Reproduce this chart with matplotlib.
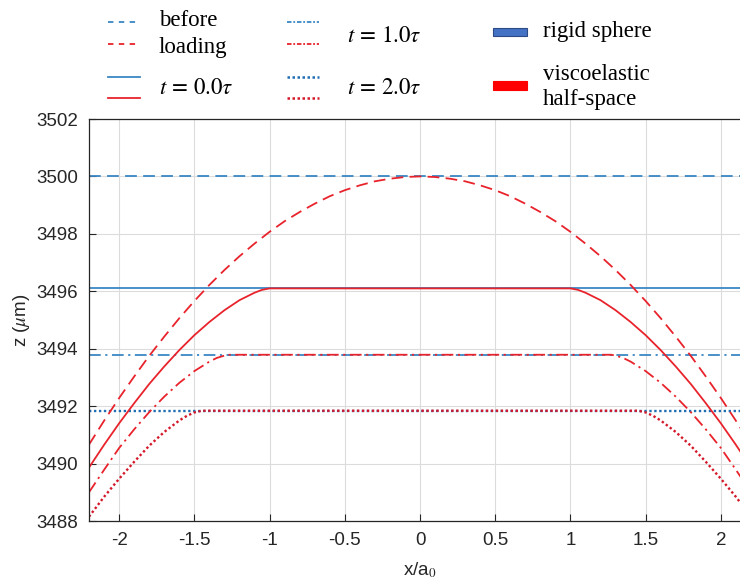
import numpy as np
import matplotlib
matplotlib.use("Agg")
import matplotlib.pyplot as plt
from matplotlib.lines import Line2D
from matplotlib.patches import Rectangle

plt.rcParams["mathtext.fontset"] = "stix"
plt.rcParams["axes.unicode_minus"] = False
plt.rcParams["font.family"] = ["Liberation Sans", "DejaVu Sans"]

# ---- data (x / a0, z in micrometres); profiles are symmetric about x = 0 ----
x_load = [0.0, 0.1, 0.2, 0.3, 0.4, 0.5, 0.6, 0.7, 0.8, 0.9, 1.0, 1.1,
          1.2, 1.3, 1.4, 1.5, 1.6, 1.7, 1.8, 1.9, 2.0, 2.1, 2.2]
z_load = [3500.00, 3499.98, 3499.92, 3499.83, 3499.69, 3499.52, 3499.31,
          3499.05, 3498.76, 3498.44, 3498.07, 3497.66, 3497.22, 3496.74,
          3496.22, 3495.66, 3495.06, 3494.42, 3493.75, 3493.03, 3492.28,
          3491.49, 3490.66]

x_t0 = [1.0, 1.05, 1.1, 1.2, 1.3, 1.4, 1.5, 1.6, 1.7, 1.8, 1.9, 2.0, 2.1, 2.2]
z_t0 = [3496.10, 3496.05, 3495.95, 3495.69, 3495.34, 3494.93, 3494.47,
        3493.95, 3493.38, 3492.77, 3492.10, 3491.40, 3490.65, 3489.86]

x_t1 = [1.27, 1.3, 1.35, 1.4, 1.5, 1.6, 1.7, 1.8, 1.9, 2.0, 2.1, 2.2]
z_t1 = [3493.79, 3493.76, 3493.68, 3493.55, 3493.22, 3492.81, 3492.33,
        3491.79, 3491.19, 3490.54, 3489.78, 3489.00]

x_t2 = [1.45, 1.5, 1.55, 1.6, 1.7, 1.8, 1.9, 2.0, 2.1, 2.2]
z_t2 = [3491.84, 3491.78, 3491.66, 3491.50, 3491.10, 3490.62, 3490.06,
        3489.47, 3488.84, 3488.15]

# rigid sphere heights
sphere_before = 3500.0
sphere_t0 = 3496.1
sphere_t1 = 3493.79
sphere_t2 = 3491.84

x_ticks = [-2, -1.5, -1, -0.5, 0, 0.5, 1, 1.5, 2]
x_ticklabels = ["-2", "-1.5", "-1", "-0.5", "0", "0.5", "1", "1.5", "2"]
y_ticks = [3488, 3490, 3492, 3494, 3496, 3498, 3500, 3502]


def mirror(xh, zh, include_zero=False):
    xh = np.asarray(xh, float)
    zh = np.asarray(zh, float)
    if include_zero:
        return np.concatenate([-xh[:0:-1], xh]), np.concatenate([zh[:0:-1], zh])
    return np.concatenate([-xh[::-1], xh]), np.concatenate([zh[::-1], zh])


BLUE = "#3a87c4"
RED = "#e8232c"
INK = "#262626"

W, H = 740, 583
fig = plt.figure(figsize=(W / 100, H / 100), dpi=100)
fig.patch.set_facecolor("white")

ax_l, ax_r, ax_t, ax_b = 89, 751, 119, 521
ax = fig.add_axes([ax_l / W, 1 - ax_b / H, (ax_r - ax_l) / W, (ax_b - ax_t) / H])

lw = 1.3
dash = (0, (6.5, 3.5))
dashdot = (0, (6.5, 2.5, 1.2, 2.5))
dot = (0, (1.0, 1.1))

# rigid sphere positions
ax.axhline(sphere_before, color=BLUE, lw=lw, linestyle=dash)
ax.axhline(sphere_t0, color=BLUE, lw=lw, linestyle="-")
ax.axhline(sphere_t1, color=BLUE, lw=lw, linestyle=dashdot)
ax.axhline(sphere_t2, color="#1f6db3", lw=lw + 0.4, linestyle=dot)

# half-space surface
xl, zl = mirror(x_load, z_load, include_zero=True)
ax.plot(xl, zl, color=RED, lw=lw, linestyle=dash)
xa, za = mirror(x_t0, z_t0)
ax.plot(xa, za, color=RED, lw=lw, linestyle="-")
xb, zb = mirror(x_t1, z_t1)
ax.plot(xb, zb, color=RED, lw=lw, linestyle=dashdot)
xc, zc = mirror(x_t2, z_t2)
ax.plot(xc, zc, color="#d4182a", lw=lw + 0.4, linestyle=dot)

ax.set_xlim(-2.2, 2.2)
ax.set_ylim(3488, 3502)
ax.set_xticks(x_ticks)
ax.set_xticklabels(x_ticklabels)
ax.set_yticks(y_ticks)
ax.tick_params(direction="in", length=5, width=0.8, colors=INK,
               labelsize=13.5, top=False, right=False, pad=8)
ax.grid(True, color="#dcdcdc", lw=0.8)
ax.set_axisbelow(True)
for s in ax.spines.values():
    s.set_color(INK)
    s.set_linewidth(0.9)

ax.set_xlabel("x/a$_0$", fontsize=13.5, color=INK, labelpad=8)
ax.set_ylabel("z ($\\mu$m)", fontsize=13.5, color=INK, labelpad=3)

# ---- legend above the axes ----
def fx(px):
    return px / W


def fy(py):
    return 1 - py / H


def sample(x0, y, color, ls, width=1.3):
    fig.add_artist(Line2D([fx(x0), fx(x0 + 32)], [fy(y), fy(y)], color=color,
                          lw=width, linestyle=ls, transform=fig.transFigure))


def label(x, y, s):
    fig.text(fx(x), fy(y), s, fontsize=16.5, family="Liberation Serif",
             va="center", ha="left", color="black")


sample(108, 22, BLUE, (0, (3, 3)))
label(159, 20, "before")
sample(108, 44, RED, (0, (3, 3)))
label(159, 48, "loading")
sample(108, 77, BLUE, "-")
sample(108, 98, RED, "-")
label(159, 88, "$t\\,=\\,0.0\\tau$")

sample(287, 22, BLUE, (0, (2.5, 1.0, 1.0, 1.0)))
sample(287, 44, RED, (0, (2.5, 1.0, 1.0, 1.0)))
label(347, 36, "$t\\,=\\,1.0\\tau$")
sample(287, 77, "#1f6db3", (0, (1.0, 1.0)), 1.8)
sample(287, 98, "#d4182a", (0, (1.0, 1.0)), 1.8)
label(347, 88, "$t\\,=\\,2.0\\tau$")

fig.add_artist(Rectangle((fx(493), fy(36)), 34 / W, 8 / H, facecolor="#4472c4",
                         edgecolor="#2b4a86", lw=0.8, transform=fig.transFigure))
label(543, 31, "rigid sphere")
fig.add_artist(Rectangle((fx(493), fy(90)), 34 / W, 9 / H, facecolor="#ff0000",
                         edgecolor="#ff0000", lw=0.8, transform=fig.transFigure))
label(543, 74, "viscoelastic")
label(543, 99, "half-space")

fig.savefig("out.png", dpi=100)
